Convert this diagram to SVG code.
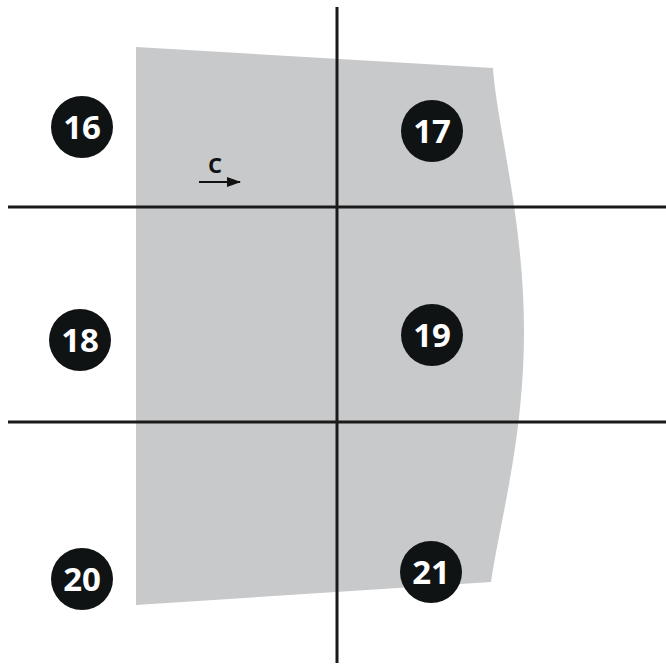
<svg xmlns="http://www.w3.org/2000/svg" width="666" height="667" viewBox="0 0 666 667">
<style>
.lbl{font-family:"Open Sans","DejaVu Sans",sans-serif;font-weight:700;font-size:33px;fill:#fff;text-anchor:middle}
.dot{fill:#0f1314}
.ln{stroke:#1a1a1a;stroke-width:3;fill:none}
</style>
<defs>
<marker id="ah" markerWidth="14" markerHeight="10" refX="13" refY="5" orient="auto" markerUnits="userSpaceOnUse">
<path d="M0,0 L14,5 L0,10 Z" fill="#111"/>
</marker>
</defs>
<rect width="666" height="667" fill="#fff"/>
<g id="shape">
<path d="M136,47 L493,68 C496,120 524,220 524,330 C524,440 500,520 491,582 L136,605 Z" fill="#c8c9cb"/>
</g>
<g id="connectors">
<line class="ln" x1="337" y1="7" x2="337" y2="663"/>
<line class="ln" x1="8" y1="207" x2="666" y2="207"/>
<line class="ln" x1="8" y1="422" x2="666" y2="422"/>
<line x1="199" y1="182" x2="240" y2="182" stroke="#111" stroke-width="2" marker-end="url(#ah)"/>
<text x="215" y="173" font-family="Open Sans, DejaVu Sans, sans-serif" font-weight="700" font-size="22" fill="#111" text-anchor="middle">C</text>
</g>
<g id="n16"><circle class="dot" cx="82" cy="127" r="31"/><text class="lbl" x="82" y="139">16</text></g>
<g id="n17"><circle class="dot" cx="432" cy="131" r="31"/><text class="lbl" x="432" y="143">17</text></g>
<g id="n18"><circle class="dot" cx="80" cy="340" r="31"/><text class="lbl" x="80" y="352">18</text></g>
<g id="n19"><circle class="dot" cx="432" cy="335" r="31"/><text class="lbl" x="432" y="347">19</text></g>
<g id="n20"><circle class="dot" cx="82" cy="579" r="31"/><text class="lbl" x="82" y="591">20</text></g>
<g id="n21"><circle class="dot" cx="431" cy="572" r="31"/><text class="lbl" x="431" y="584">21</text></g>
</svg>
